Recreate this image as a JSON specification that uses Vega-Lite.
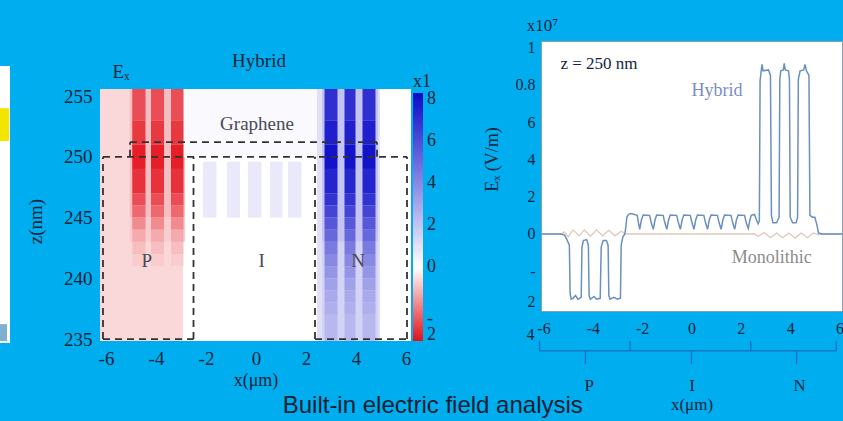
{
  "$schema": "https://vega.github.io/schema/vega-lite/v6.json",
  "background": "#00aeef",
  "padding": {"left": 0, "top": 16, "right": 6, "bottom": 6},
  "autosize": {"type": "pad"},
  "spacing": 46,
  "config": {
    "view": {"stroke": null},
    "font": "Liberation Serif",
    "axis": {"labelFont": "Liberation Serif", "titleFont": "Liberation Serif", "labelColor": "#14243a", "titleColor": "#14243a", "titleFontWeight": "normal", "grid": false}
  },
  "title": {"text": "Built-in electric field analysis", "orient": "bottom", "anchor": "middle", "font": "Liberation Sans", "fontSize": 24, "fontWeight": "normal", "color": "#0b1e33", "offset": -19, "dx": 10},
  "resolve": {"scale": {"x": "independent", "y": "independent", "color": "independent"}},
  "datasets": {
    "panels": [
      {"part": "plot", "x": -6.24, "x2": 6.2, "z": 234.84, "z2": 255.58},
      {"part": "strip", "x": -10.24, "x2": -9.84, "z": 234.67, "z2": 257.47},
      {"part": "yellow", "x": -10.24, "x2": -9.88, "z": 251.3, "z2": 254.0},
      {"part": "steel", "x": -10.24, "x2": -9.96, "z": 234.84, "z2": 236.23}
    ],
    "cells": [
      {"x": -6.24, "x2": -2.92, "z": 234.84, "z2": 255.58, "v": -0.58},
      {"x": -5.05, "x2": -2.84, "z": 245, "z2": 255.58, "v": -0.95},
      {"x": -5.05, "x2": -2.84, "z": 243, "z2": 245, "v": -0.75},
      {"x": 2.44, "x2": 4.96, "z": 234.84, "z2": 255.58, "v": 1.1},
      {"x": 2.64, "x2": 4.88, "z": 243, "z2": 255.58, "v": 2.0},
      {"x": 2.64, "x2": 4.88, "z": 234.84, "z2": 243, "v": 1.5},
      {"x": -2.92, "x2": 2.44, "z": 250, "z2": 255.58, "v": 0.2},
      {"x": -2.12, "x2": -1.58, "z": 245, "z2": 249.6, "v": 0.75},
      {"x": -1.16, "x2": -0.64, "z": 245, "z2": 249.6, "v": 0.75},
      {"x": -0.32, "x2": 0.22, "z": 245, "z2": 249.6, "v": 0.75},
      {"x": 0.56, "x2": 1.06, "z": 245, "z2": 249.6, "v": 0.75},
      {"x": 1.28, "x2": 1.82, "z": 245, "z2": 249.6, "v": 0.75},
      {"x": -4.95, "x2": -4.42, "z": 253, "z2": 255.58, "v": -2.6},
      {"x": -4.95, "x2": -4.42, "z": 251, "z2": 253, "v": -2.9},
      {"x": -4.95, "x2": -4.42, "z": 249, "z2": 251, "v": -3.3},
      {"x": -4.95, "x2": -4.42, "z": 247, "z2": 249, "v": -3.0},
      {"x": -4.95, "x2": -4.42, "z": 246, "z2": 247, "v": -2.6},
      {"x": -4.95, "x2": -4.42, "z": 245, "z2": 246, "v": -2.2},
      {"x": -4.95, "x2": -4.42, "z": 244, "z2": 245, "v": -1.7},
      {"x": -4.95, "x2": -4.42, "z": 243, "z2": 244, "v": -1.25},
      {"x": -4.95, "x2": -4.42, "z": 242, "z2": 243, "v": -0.95},
      {"x": -4.95, "x2": -4.42, "z": 241, "z2": 242, "v": -0.75},
      {"x": -4.2, "x2": -3.68, "z": 253, "z2": 255.58, "v": -2.6},
      {"x": -4.2, "x2": -3.68, "z": 251, "z2": 253, "v": -2.9},
      {"x": -4.2, "x2": -3.68, "z": 249, "z2": 251, "v": -3.3},
      {"x": -4.2, "x2": -3.68, "z": 247, "z2": 249, "v": -3.0},
      {"x": -4.2, "x2": -3.68, "z": 246, "z2": 247, "v": -2.6},
      {"x": -4.2, "x2": -3.68, "z": 245, "z2": 246, "v": -2.2},
      {"x": -4.2, "x2": -3.68, "z": 244, "z2": 245, "v": -1.7},
      {"x": -4.2, "x2": -3.68, "z": 243, "z2": 244, "v": -1.25},
      {"x": -4.2, "x2": -3.68, "z": 242, "z2": 243, "v": -0.95},
      {"x": -4.2, "x2": -3.68, "z": 241, "z2": 242, "v": -0.75},
      {"x": -3.4, "x2": -2.9, "z": 253, "z2": 255.58, "v": -2.6},
      {"x": -3.4, "x2": -2.9, "z": 251, "z2": 253, "v": -2.9},
      {"x": -3.4, "x2": -2.9, "z": 249, "z2": 251, "v": -3.3},
      {"x": -3.4, "x2": -2.9, "z": 247, "z2": 249, "v": -3.0},
      {"x": -3.4, "x2": -2.9, "z": 246, "z2": 247, "v": -2.6},
      {"x": -3.4, "x2": -2.9, "z": 245, "z2": 246, "v": -2.2},
      {"x": -3.4, "x2": -2.9, "z": 244, "z2": 245, "v": -1.7},
      {"x": -3.4, "x2": -2.9, "z": 243, "z2": 244, "v": -1.25},
      {"x": -3.4, "x2": -2.9, "z": 242, "z2": 243, "v": -0.95},
      {"x": -3.4, "x2": -2.9, "z": 241, "z2": 242, "v": -0.75},
      {"x": 2.74, "x2": 3.26, "z": 253, "z2": 255.58, "v": 7.0},
      {"x": 2.74, "x2": 3.26, "z": 251, "z2": 253, "v": 7.6},
      {"x": 2.74, "x2": 3.26, "z": 249, "z2": 251, "v": 8.0},
      {"x": 2.74, "x2": 3.26, "z": 247, "z2": 249, "v": 7.4},
      {"x": 2.74, "x2": 3.26, "z": 246, "z2": 247, "v": 6.9},
      {"x": 2.74, "x2": 3.26, "z": 245, "z2": 246, "v": 6.3},
      {"x": 2.74, "x2": 3.26, "z": 244, "z2": 245, "v": 5.7},
      {"x": 2.74, "x2": 3.26, "z": 243, "z2": 244, "v": 5.1},
      {"x": 2.74, "x2": 3.26, "z": 242, "z2": 243, "v": 4.5},
      {"x": 2.74, "x2": 3.26, "z": 241, "z2": 242, "v": 4.0},
      {"x": 2.74, "x2": 3.26, "z": 240, "z2": 241, "v": 3.6},
      {"x": 2.74, "x2": 3.26, "z": 239, "z2": 240, "v": 3.2},
      {"x": 2.74, "x2": 3.26, "z": 238, "z2": 239, "v": 2.9},
      {"x": 2.74, "x2": 3.26, "z": 237, "z2": 238, "v": 2.7},
      {"x": 2.74, "x2": 3.26, "z": 234.84, "z2": 237, "v": 2.4},
      {"x": 3.54, "x2": 3.98, "z": 253, "z2": 255.58, "v": 7.0},
      {"x": 3.54, "x2": 3.98, "z": 251, "z2": 253, "v": 7.6},
      {"x": 3.54, "x2": 3.98, "z": 249, "z2": 251, "v": 8.0},
      {"x": 3.54, "x2": 3.98, "z": 247, "z2": 249, "v": 7.4},
      {"x": 3.54, "x2": 3.98, "z": 246, "z2": 247, "v": 6.9},
      {"x": 3.54, "x2": 3.98, "z": 245, "z2": 246, "v": 6.3},
      {"x": 3.54, "x2": 3.98, "z": 244, "z2": 245, "v": 5.7},
      {"x": 3.54, "x2": 3.98, "z": 243, "z2": 244, "v": 5.1},
      {"x": 3.54, "x2": 3.98, "z": 242, "z2": 243, "v": 4.5},
      {"x": 3.54, "x2": 3.98, "z": 241, "z2": 242, "v": 4.0},
      {"x": 3.54, "x2": 3.98, "z": 240, "z2": 241, "v": 3.6},
      {"x": 3.54, "x2": 3.98, "z": 239, "z2": 240, "v": 3.2},
      {"x": 3.54, "x2": 3.98, "z": 238, "z2": 239, "v": 2.9},
      {"x": 3.54, "x2": 3.98, "z": 237, "z2": 238, "v": 2.7},
      {"x": 3.54, "x2": 3.98, "z": 234.84, "z2": 237, "v": 2.4},
      {"x": 4.26, "x2": 4.78, "z": 253, "z2": 255.58, "v": 7.0},
      {"x": 4.26, "x2": 4.78, "z": 251, "z2": 253, "v": 7.6},
      {"x": 4.26, "x2": 4.78, "z": 249, "z2": 251, "v": 8.0},
      {"x": 4.26, "x2": 4.78, "z": 247, "z2": 249, "v": 7.4},
      {"x": 4.26, "x2": 4.78, "z": 246, "z2": 247, "v": 6.9},
      {"x": 4.26, "x2": 4.78, "z": 245, "z2": 246, "v": 6.3},
      {"x": 4.26, "x2": 4.78, "z": 244, "z2": 245, "v": 5.7},
      {"x": 4.26, "x2": 4.78, "z": 243, "z2": 244, "v": 5.1},
      {"x": 4.26, "x2": 4.78, "z": 242, "z2": 243, "v": 4.5},
      {"x": 4.26, "x2": 4.78, "z": 241, "z2": 242, "v": 4.0},
      {"x": 4.26, "x2": 4.78, "z": 240, "z2": 241, "v": 3.6},
      {"x": 4.26, "x2": 4.78, "z": 239, "z2": 240, "v": 3.2},
      {"x": 4.26, "x2": 4.78, "z": 238, "z2": 239, "v": 2.9},
      {"x": 4.26, "x2": 4.78, "z": 237, "z2": 238, "v": 2.7},
      {"x": 4.26, "x2": 4.78, "z": 234.84, "z2": 237, "v": 2.4}
    ],
    "dashes": [
      {"x": -6.12, "x2": 6.04, "z": 250, "z2": 250},
      {"x": -5.04, "x2": 4.84, "z": 251.2, "z2": 251.2},
      {"x": -5.04, "x2": -5.04, "z": 250, "z2": 251.2},
      {"x": 4.84, "x2": 4.84, "z": 250, "z2": 251.2},
      {"x": -6.12, "x2": -6.12, "z": 235, "z2": 250},
      {"x": -2.5, "x2": -2.5, "z": 235, "z2": 250},
      {"x": 2.36, "x2": 2.36, "z": 235, "z2": 250},
      {"x": 6.04, "x2": 6.04, "z": 235, "z2": 250},
      {"x": -6.12, "x2": -2.5, "z": 235, "z2": 235},
      {"x": 2.36, "x2": 6.04, "z": 235, "z2": 235}
    ],
    "htext": [
      {"x": 0.12, "z": 257.9, "label": "Hybrid", "tone": "dark"},
      {"x": -5.4, "z": 257.0, "label": "Eₓ", "tone": "dark"},
      {"x": 0.04, "z": 252.7, "label": "Graphene", "tone": "gray"},
      {"x": -4.37, "z": 241.4, "label": "P", "tone": "gray"},
      {"x": 0.23, "z": 241.4, "label": "I", "tone": "gray"},
      {"x": 4.08, "z": 241.4, "label": "N", "tone": "gray"}
    ],
    "profile": [
      {"series": "Monolithic", "x": -6.1, "y": 0}, {"series": "Monolithic", "x": -5.3, "y": 0}, {"series": "Monolithic", "x": -5.15, "y": 0.12}, {"series": "Monolithic", "x": -5.0, "y": -0.15}, {"series": "Monolithic", "x": -4.8, "y": 0.22}, {"series": "Monolithic", "x": -4.55, "y": -0.1}, {"series": "Monolithic", "x": -4.35, "y": 0.22}, {"series": "Monolithic", "x": -4.1, "y": -0.12}, {"series": "Monolithic", "x": -3.85, "y": 0.22}, {"series": "Monolithic", "x": -3.6, "y": -0.1}, {"series": "Monolithic", "x": -3.35, "y": 0.2}, {"series": "Monolithic", "x": -3.1, "y": -0.1}, {"series": "Monolithic", "x": -2.85, "y": 0.15}, {"series": "Monolithic", "x": -2.65, "y": 0}, {"series": "Monolithic", "x": 2.55, "y": 0}, {"series": "Monolithic", "x": 2.7, "y": -0.12}, {"series": "Monolithic", "x": 2.95, "y": 0.08}, {"series": "Monolithic", "x": 3.2, "y": -0.2}, {"series": "Monolithic", "x": 3.45, "y": 0.05}, {"series": "Monolithic", "x": 3.7, "y": -0.2}, {"series": "Monolithic", "x": 3.95, "y": 0.05}, {"series": "Monolithic", "x": 4.2, "y": -0.22}, {"series": "Monolithic", "x": 4.45, "y": 0.05}, {"series": "Monolithic", "x": 4.7, "y": -0.2}, {"series": "Monolithic", "x": 4.95, "y": 0.05}, {"series": "Monolithic", "x": 5.15, "y": -0.05}, {"series": "Monolithic", "x": 5.3, "y": 0}, {"series": "Monolithic", "x": 6.1, "y": 0},
      {"series": "Hybrid", "x": -6.1, "y": 0}, {"series": "Hybrid", "x": -5.3, "y": 0}, {"series": "Hybrid", "x": -5.15, "y": -0.05}, {"series": "Hybrid", "x": -5.05, "y": -0.3}, {"series": "Hybrid", "x": -4.95, "y": -0.6}, {"series": "Hybrid", "x": -4.92, "y": -3.2}, {"series": "Hybrid", "x": -4.88, "y": -3.5}, {"series": "Hybrid", "x": -4.8, "y": -3.45}, {"series": "Hybrid", "x": -4.7, "y": -3.3}, {"series": "Hybrid", "x": -4.6, "y": -3.5}, {"series": "Hybrid", "x": -4.47, "y": -3.4}, {"series": "Hybrid", "x": -4.44, "y": -0.7}, {"series": "Hybrid", "x": -4.38, "y": -0.35}, {"series": "Hybrid", "x": -4.25, "y": -0.3}, {"series": "Hybrid", "x": -4.18, "y": -0.6}, {"series": "Hybrid", "x": -4.15, "y": -3.3}, {"series": "Hybrid", "x": -4.1, "y": -3.5}, {"series": "Hybrid", "x": -3.95, "y": -3.35}, {"series": "Hybrid", "x": -3.85, "y": -3.5}, {"series": "Hybrid", "x": -3.7, "y": -3.45}, {"series": "Hybrid", "x": -3.66, "y": -0.7}, {"series": "Hybrid", "x": -3.58, "y": -0.35}, {"series": "Hybrid", "x": -3.45, "y": -0.35}, {"series": "Hybrid", "x": -3.38, "y": -0.6}, {"series": "Hybrid", "x": -3.35, "y": -3.3}, {"series": "Hybrid", "x": -3.3, "y": -3.5}, {"series": "Hybrid", "x": -3.15, "y": -3.4}, {"series": "Hybrid", "x": -3.0, "y": -3.5}, {"series": "Hybrid", "x": -2.88, "y": -3.45}, {"series": "Hybrid", "x": -2.85, "y": -0.6}, {"series": "Hybrid", "x": -2.78, "y": -0.15}, {"series": "Hybrid", "x": -2.7, "y": 0.0}, {"series": "Hybrid", "x": -2.66, "y": 0.4}, {"series": "Hybrid", "x": -2.62, "y": 0.9}, {"series": "Hybrid", "x": -2.55, "y": 1.05}, {"series": "Hybrid", "x": -2.45, "y": 1.1}, {"series": "Hybrid", "x": -2.2, "y": 1.0}, {"series": "Hybrid", "x": -2.15, "y": 0.6},
      {"series": "Hybrid", "x": -2.1, "y": 0.25}, {"series": "Hybrid", "x": -2.03, "y": 0.75}, {"series": "Hybrid", "x": -1.96, "y": 1.02}, {"series": "Hybrid", "x": -1.7, "y": 1.0}, {"series": "Hybrid", "x": -1.63, "y": 0.6},
      {"series": "Hybrid", "x": -1.55, "y": 0.25}, {"series": "Hybrid", "x": -1.48, "y": 0.75}, {"series": "Hybrid", "x": -1.41, "y": 1.02}, {"series": "Hybrid", "x": -1.15, "y": 1.0}, {"series": "Hybrid", "x": -1.08, "y": 0.6},
      {"series": "Hybrid", "x": -1.0, "y": 0.25}, {"series": "Hybrid", "x": -0.93, "y": 0.75}, {"series": "Hybrid", "x": -0.86, "y": 1.02}, {"series": "Hybrid", "x": -0.6, "y": 1.0}, {"series": "Hybrid", "x": -0.53, "y": 0.6},
      {"series": "Hybrid", "x": -0.45, "y": 0.25}, {"series": "Hybrid", "x": -0.38, "y": 0.75}, {"series": "Hybrid", "x": -0.31, "y": 1.02}, {"series": "Hybrid", "x": -0.05, "y": 1.0}, {"series": "Hybrid", "x": 0.02, "y": 0.6},
      {"series": "Hybrid", "x": 0.1, "y": 0.25}, {"series": "Hybrid", "x": 0.17, "y": 0.75}, {"series": "Hybrid", "x": 0.24, "y": 1.02}, {"series": "Hybrid", "x": 0.5, "y": 1.0}, {"series": "Hybrid", "x": 0.57, "y": 0.6},
      {"series": "Hybrid", "x": 0.65, "y": 0.25}, {"series": "Hybrid", "x": 0.72, "y": 0.75}, {"series": "Hybrid", "x": 0.79, "y": 1.02}, {"series": "Hybrid", "x": 1.05, "y": 1.0}, {"series": "Hybrid", "x": 1.12, "y": 0.6},
      {"series": "Hybrid", "x": 1.2, "y": 0.25}, {"series": "Hybrid", "x": 1.27, "y": 0.75}, {"series": "Hybrid", "x": 1.34, "y": 1.02}, {"series": "Hybrid", "x": 1.6, "y": 1.0}, {"series": "Hybrid", "x": 1.67, "y": 0.6},
      {"series": "Hybrid", "x": 1.75, "y": 0.25}, {"series": "Hybrid", "x": 1.82, "y": 0.75}, {"series": "Hybrid", "x": 1.89, "y": 1.02}, {"series": "Hybrid", "x": 2.15, "y": 1.0}, {"series": "Hybrid", "x": 2.22, "y": 0.6},
      {"series": "Hybrid", "x": 2.3, "y": 0.3}, {"series": "Hybrid", "x": 2.36, "y": 0.7}, {"series": "Hybrid", "x": 2.42, "y": 1.0}, {"series": "Hybrid", "x": 2.55, "y": 1.05}, {"series": "Hybrid", "x": 2.62, "y": 0.8}, {"series": "Hybrid", "x": 2.7, "y": 0.55}, {"series": "Hybrid", "x": 2.75, "y": 0.7},
      {"series": "Hybrid", "x": 2.78, "y": 8.2}, {"series": "Hybrid", "x": 2.82, "y": 8.7}, {"series": "Hybrid", "x": 2.86, "y": 9.1}, {"series": "Hybrid", "x": 2.9, "y": 8.75}, {"series": "Hybrid", "x": 3.12, "y": 8.8}, {"series": "Hybrid", "x": 3.2, "y": 8.5}, {"series": "Hybrid", "x": 3.24, "y": 1.0}, {"series": "Hybrid", "x": 3.3, "y": 0.6}, {"series": "Hybrid", "x": 3.45, "y": 0.6}, {"series": "Hybrid", "x": 3.55, "y": 0.9},
      {"series": "Hybrid", "x": 3.58, "y": 8.3}, {"series": "Hybrid", "x": 3.62, "y": 8.75}, {"series": "Hybrid", "x": 3.72, "y": 8.8}, {"series": "Hybrid", "x": 3.76, "y": 9.15}, {"series": "Hybrid", "x": 3.8, "y": 8.8}, {"series": "Hybrid", "x": 3.93, "y": 8.75}, {"series": "Hybrid", "x": 3.97, "y": 8.3}, {"series": "Hybrid", "x": 4.0, "y": 0.9}, {"series": "Hybrid", "x": 4.1, "y": 0.6}, {"series": "Hybrid", "x": 4.24, "y": 0.6}, {"series": "Hybrid", "x": 4.3, "y": 0.9},
      {"series": "Hybrid", "x": 4.33, "y": 8.3}, {"series": "Hybrid", "x": 4.4, "y": 8.75}, {"series": "Hybrid", "x": 4.55, "y": 8.8}, {"series": "Hybrid", "x": 4.6, "y": 9.1}, {"series": "Hybrid", "x": 4.66, "y": 8.75}, {"series": "Hybrid", "x": 4.76, "y": 8.5}, {"series": "Hybrid", "x": 4.8, "y": 1.0}, {"series": "Hybrid", "x": 4.9, "y": 0.9}, {"series": "Hybrid", "x": 5.0, "y": 0.9}, {"series": "Hybrid", "x": 5.08, "y": 0.5}, {"series": "Hybrid", "x": 5.15, "y": 0.05}, {"series": "Hybrid", "x": 5.3, "y": 0}, {"series": "Hybrid", "x": 6.1, "y": 0}
    ],
    "ltext": [
      {"x": -5.31, "y": 9.1, "label": "z = 250 nm", "tone": "dark", "align": "left"},
      {"x": 1.03, "y": 7.67, "label": "Hybrid", "tone": "hyb", "align": "center"},
      {"x": 3.25, "y": -1.29, "label": "Monolithic", "tone": "mono", "align": "center"},
      {"x": -6.04, "y": 11.15, "label": "x10⁷", "tone": "dark", "align": "center"},
      {"x": -6.36, "y": -5.4, "label": "4", "tone": "dark", "align": "right"},
      {"x": -4.14, "y": -8.15, "label": "P", "tone": "dark", "align": "center"},
      {"x": 0.02, "y": -8.15, "label": "I", "tone": "dark", "align": "center"},
      {"x": 4.38, "y": -8.15, "label": "N", "tone": "dark", "align": "center"}
    ],
    "bracket": [
      {"x": -6.16, "x2": 5.87, "y": -6.27, "y2": -6.27},
      {"x": -6.16, "x2": -6.16, "y": -6.27, "y2": -5.74},
      {"x": -2.49, "x2": -2.49, "y": -6.27, "y2": -5.74},
      {"x": 2.4, "x2": 2.4, "y": -6.27, "y2": -5.74},
      {"x": 5.87, "x2": 5.87, "y": -6.27, "y2": -5.74},
      {"x": -4.3, "x2": -4.3, "y": -6.27, "y2": -6.97},
      {"x": 0, "x2": 0, "y": -6.27, "y2": -6.97},
      {"x": 4.26, "x2": 4.26, "y": -6.27, "y2": -6.97}
    ]
  },
  "hconcat": [
    {
      "width": 311,
      "height": 300,
      "view": {"stroke": null, "fill": null},
      "encoding": {
        "x": {"field": "x", "type": "quantitative", "scale": {"domain": [-6.24, 6.2], "nice": false, "zero": false},
          "axis": {"values": [-6, -4, -2, 0, 2, 4, 6], "labelExpr": "'' + datum.value", "domain": false, "ticks": false, "labelPadding": 8, "labelFontSize": 19, "title": "x(μm)", "titleFontSize": 18, "titlePadding": 3}},
        "y": {"field": "z", "type": "quantitative", "scale": {"domain": [234.84, 259.53], "nice": false, "zero": false},
          "axis": {"values": [235, 240, 245, 250, 255], "domain": false, "ticks": false, "labelPadding": 8, "labelFontSize": 19, "title": "z(nm)", "titleFontSize": 19, "titlePadding": 18, "titleY": 180}}
      },
      "layer": [
        {"data": {"name": "panels"}, "transform": [{"filter": "datum.part == 'strip' || datum.part == 'plot'"}], "mark": {"type": "rect", "color": "#ffffff"}, "encoding": {"x2": {"field": "x2"}, "y2": {"field": "z2"}}},
        {"data": {"name": "panels"}, "transform": [{"filter": "datum.part == 'yellow'"}], "mark": {"type": "rect", "color": "#f2e600"}, "encoding": {"x2": {"field": "x2"}, "y2": {"field": "z2"}}},
        {"data": {"name": "panels"}, "transform": [{"filter": "datum.part == 'steel'"}], "mark": {"type": "rect", "color": "#7fb0d4"}, "encoding": {"x2": {"field": "x2"}, "y2": {"field": "z2"}}},
        {"data": {"name": "cells"}, "mark": {"type": "rect"},
          "encoding": {"x2": {"field": "x2"}, "y2": {"field": "z2"},
            "color": {"field": "v", "type": "quantitative",
              "scale": {"domain": [-3.5, 0, 8.3], "range": ["#e3101a", "#ffffff", "#0a0ac8"], "interpolate": "rgb"},
              "legend": {"type": "gradient", "orient": "none", "legendX": 313, "legendY": 32, "direction": "vertical", "gradientLength": 248, "gradientThickness": 10, "gradientStrokeWidth": 0, "title": "x1", "titleFont": "Liberation Serif", "titleFontSize": 18, "titleFontWeight": "normal", "titleColor": "#14243a", "titlePadding": 2, "labelFont": "Liberation Serif", "labelFontSize": 18, "labelColor": "#14243a", "labelOffset": 4, "labelOverlap": false, "values": [8, 6, 4, 2, 0, -2.45, -3.2], "labelExpr": "datum.value == -2.45 ? '-' : datum.value == -3.2 ? '2' : '' + datum.value"}}}},
        {"data": {"name": "dashes"}, "mark": {"type": "rule", "color": "#333333", "strokeWidth": 1.8, "strokeDash": [7, 5]}, "encoding": {"x2": {"field": "x2"}, "y2": {"field": "z2"}}},
        {"data": {"name": "htext"}, "transform": [{"filter": "datum.tone == 'dark'"}], "mark": {"type": "text", "font": "Liberation Serif", "fontSize": 19, "color": "#14243a"}, "encoding": {"text": {"field": "label"}}},
        {"data": {"name": "htext"}, "transform": [{"filter": "datum.tone == 'gray'"}], "mark": {"type": "text", "font": "Liberation Serif", "fontSize": 19, "color": "#4a4a55"}, "encoding": {"text": {"field": "label"}}}
      ]
    },
    {
      "width": 301,
      "height": 270,
      "view": {"fill": "#ffffff", "stroke": "#8b9bb0", "strokeWidth": 1},
      "encoding": {
        "x": {"field": "x", "type": "quantitative", "scale": {"domain": [-6.1, 6.1], "nice": false, "zero": false},
          "axis": {"values": [-6, -4, -2, 0, 2, 4, 6], "labelExpr": "'' + datum.value", "domain": false, "ticks": false, "labelPadding": 9, "labelFontSize": 16, "title": "x(μm)", "titleFontSize": 17, "titlePadding": 60}},
        "y": {"field": "y", "type": "quantitative", "scale": {"domain": [-4.13, 10.35], "nice": false, "zero": false},
          "axis": {"values": [10, 8, 6, 4, 2, 0, -2, -3.6], "labelExpr": "datum.value == 10 ? '1' : datum.value == 8 ? '0.8' : datum.value == -2 ? '-' : datum.value == -3.6 ? '2' : '' + datum.value", "domain": false, "ticks": false, "labelPadding": 6, "labelFontSize": 16, "title": "Eₓ (V/m)", "titleFontSize": 18, "titlePadding": 14, "titleY": 118}}
      },
      "layer": [
        {"data": {"name": "profile"}, "transform": [{"filter": "datum.series == 'Monolithic'"}], "mark": {"type": "line", "color": "#e2c6b6", "strokeWidth": 1.3}},
        {"data": {"name": "profile"}, "transform": [{"filter": "datum.series == 'Hybrid'"}], "mark": {"type": "line", "color": "#6a90bf", "strokeWidth": 1.5}},
        {"data": {"name": "bracket"}, "mark": {"type": "rule", "color": "#1f6cc0", "strokeWidth": 1.3}, "encoding": {"x2": {"field": "x2"}, "y2": {"field": "y2"}}},
        {"data": {"name": "ltext"}, "transform": [{"filter": "datum.tone == 'dark' && datum.align == 'center'"}], "mark": {"type": "text", "font": "Liberation Serif", "fontSize": 17, "color": "#14243a", "align": "center"}, "encoding": {"text": {"field": "label"}}},
        {"data": {"name": "ltext"}, "transform": [{"filter": "datum.tone == 'dark' && datum.align == 'left'"}], "mark": {"type": "text", "font": "Liberation Serif", "fontSize": 17, "color": "#14243a", "align": "left"}, "encoding": {"text": {"field": "label"}}},
        {"data": {"name": "ltext"}, "transform": [{"filter": "datum.tone == 'dark' && datum.align == 'right'"}], "mark": {"type": "text", "font": "Liberation Serif", "fontSize": 16, "color": "#14243a", "align": "right"}, "encoding": {"text": {"field": "label"}}},
        {"data": {"name": "ltext"}, "transform": [{"filter": "datum.tone == 'hyb'"}], "mark": {"type": "text", "font": "Liberation Serif", "fontSize": 18, "color": "#7d8cc6"}, "encoding": {"text": {"field": "label"}}},
        {"data": {"name": "ltext"}, "transform": [{"filter": "datum.tone == 'mono'"}], "mark": {"type": "text", "font": "Liberation Serif", "fontSize": 18, "color": "#8c8c8c"}, "encoding": {"text": {"field": "label"}}}
      ]
    }
  ]
}
